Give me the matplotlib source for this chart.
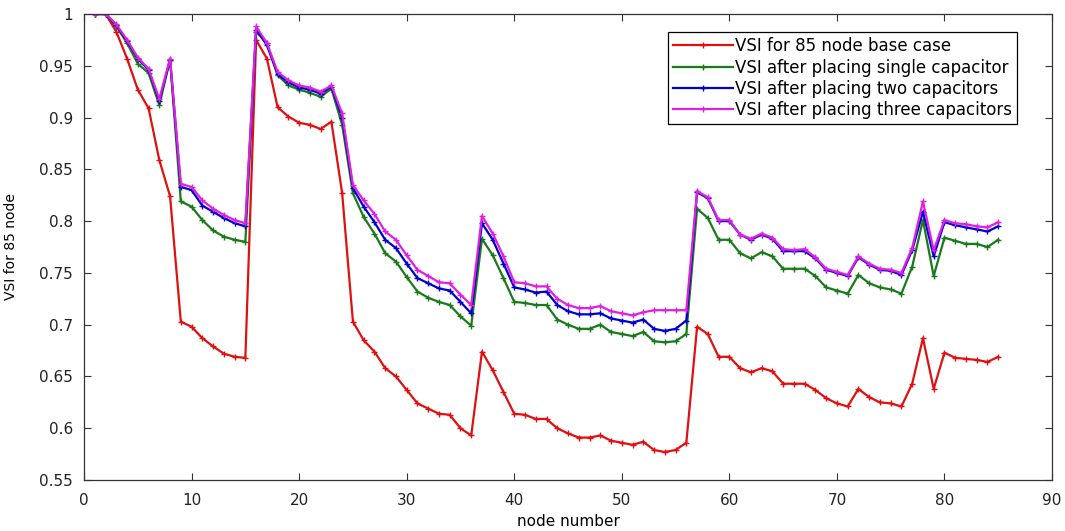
import matplotlib
matplotlib.use("Agg")
import matplotlib.pyplot as plt
from matplotlib.ticker import FuncFormatter

plt.rcParams['font.family'] = ['DejaVu Sans']

# node numbers 1..85
nodes = list(range(1, 86))

vsi_base = [
    1.000, 1.000, 0.983, 0.957, 0.927, 0.909, 0.859, 0.824, 0.703, 0.698,
    0.687, 0.679, 0.672, 0.669, 0.668, 0.975, 0.957, 0.910, 0.901, 0.895,
    0.893, 0.889, 0.896, 0.827, 0.703, 0.685, 0.674, 0.658, 0.650, 0.637,
    0.624, 0.619, 0.614, 0.613, 0.600, 0.593, 0.674, 0.656, 0.635, 0.614,
    0.613, 0.609, 0.609, 0.600, 0.595, 0.591, 0.591, 0.593, 0.588, 0.586,
    0.584, 0.587, 0.579, 0.577, 0.579, 0.586, 0.698, 0.691, 0.669, 0.669,
    0.658, 0.654, 0.658, 0.655, 0.643, 0.643, 0.643, 0.637, 0.629, 0.624,
    0.621, 0.638, 0.630, 0.625, 0.624, 0.621, 0.643, 0.687, 0.638, 0.673,
    0.668, 0.667, 0.666, 0.664, 0.669,
]

vsi_one = [
    1.000, 1.000, 0.988, 0.972, 0.952, 0.943, 0.912, 0.956, 0.819, 0.814,
    0.801, 0.791, 0.785, 0.782, 0.780, 0.983, 0.972, 0.941, 0.931, 0.927,
    0.924, 0.920, 0.928, 0.893, 0.827, 0.804, 0.788, 0.769, 0.761, 0.746,
    0.732, 0.726, 0.722, 0.719, 0.708, 0.699, 0.783, 0.767, 0.745, 0.722,
    0.721, 0.719, 0.719, 0.705, 0.700, 0.696, 0.696, 0.700, 0.693, 0.691,
    0.689, 0.693, 0.684, 0.683, 0.684, 0.691, 0.812, 0.803, 0.782, 0.782,
    0.769, 0.764, 0.770, 0.766, 0.754, 0.754, 0.754, 0.747, 0.736, 0.733,
    0.730, 0.748, 0.740, 0.736, 0.734, 0.730, 0.756, 0.801, 0.747, 0.784,
    0.781, 0.778, 0.778, 0.775, 0.782,
]

vsi_two = [
    1.000, 1.000, 0.989, 0.974, 0.957, 0.946, 0.916, 0.956, 0.833, 0.830,
    0.815, 0.809, 0.803, 0.798, 0.795, 0.985, 0.970, 0.942, 0.934, 0.929,
    0.927, 0.923, 0.930, 0.900, 0.832, 0.814, 0.799, 0.782, 0.774, 0.759,
    0.745, 0.740, 0.735, 0.733, 0.722, 0.711, 0.798, 0.782, 0.759, 0.736,
    0.734, 0.731, 0.732, 0.719, 0.713, 0.710, 0.710, 0.711, 0.706, 0.704,
    0.702, 0.705, 0.696, 0.694, 0.696, 0.704, 0.828, 0.822, 0.800, 0.800,
    0.787, 0.782, 0.787, 0.783, 0.771, 0.771, 0.771, 0.764, 0.753, 0.750,
    0.747, 0.765, 0.758, 0.753, 0.752, 0.748, 0.772, 0.809, 0.766, 0.799,
    0.796, 0.794, 0.792, 0.790, 0.795,
]

vsi_three = [
    1.000, 1.000, 0.990, 0.975, 0.958, 0.947, 0.918, 0.957, 0.836, 0.833,
    0.820, 0.812, 0.806, 0.801, 0.798, 0.988, 0.972, 0.944, 0.936, 0.931,
    0.929, 0.925, 0.931, 0.904, 0.835, 0.820, 0.807, 0.790, 0.782, 0.767,
    0.753, 0.747, 0.741, 0.740, 0.729, 0.719, 0.805, 0.788, 0.766, 0.741,
    0.740, 0.737, 0.737, 0.725, 0.719, 0.716, 0.716, 0.718, 0.713, 0.711,
    0.709, 0.712, 0.714, 0.714, 0.714, 0.714, 0.829, 0.823, 0.801, 0.801,
    0.787, 0.783, 0.788, 0.784, 0.773, 0.772, 0.773, 0.765, 0.754, 0.751,
    0.748, 0.766, 0.759, 0.754, 0.753, 0.750, 0.774, 0.819, 0.772, 0.801,
    0.798, 0.797, 0.795, 0.794, 0.799,
]

labels = [
    "VSI for 85 node base case",
    "VSI after placing single capacitor",
    "VSI after placing two capacitors",
    "VSI after placing three capacitors",
]
colors = ["#e01010", "#1a7a1a", "#0000d0", "#e020e0"]

fig = plt.figure(figsize=(10.65, 5.31), dpi=100)
ax = fig.add_axes([0.0789, 0.096, 0.9089, 0.8776])

for series, lab, col in zip([vsi_base, vsi_one, vsi_two, vsi_three], labels, colors):
    ax.plot(nodes, series, '-+', color=col, lw=1.6, ms=4, mew=1.0, label=lab)

ax.set_xlim(0, 90)
ax.set_ylim(0.55, 1.0)
ax.set_xticks(range(0, 91, 10))
ax.set_yticks([0.55 + 0.05 * i for i in range(10)])
ax.yaxis.set_major_formatter(FuncFormatter(lambda v, p: f"{v:g}"))
ax.tick_params(direction='in', top=True, right=True, labelsize=11, length=5,
               colors='#333333', labelcolor='#222222')
ax.tick_params(axis='x', pad=9)
ax.tick_params(axis='y', pad=8)
for s in ax.spines.values():
    s.set_linewidth(0.9)
    s.set_color('#333333')

ax.set_xlabel("node number", fontsize=11)
ax.set_ylabel("VSI for 85 node", fontsize=10)
ax.xaxis.set_label_coords(0.5, -0.072)
ax.yaxis.set_label_coords(-0.068, 0.5)

leg = ax.legend(loc='upper right', bbox_to_anchor=(0.964, 0.961), fontsize=12,
                fancybox=False, framealpha=1, edgecolor='black', handlelength=3.6,
                borderaxespad=0, labelspacing=0.2, borderpad=0.3, handletextpad=0.1)
leg.get_frame().set_linewidth(0.9)

fig.savefig("out.png", dpi=100)
